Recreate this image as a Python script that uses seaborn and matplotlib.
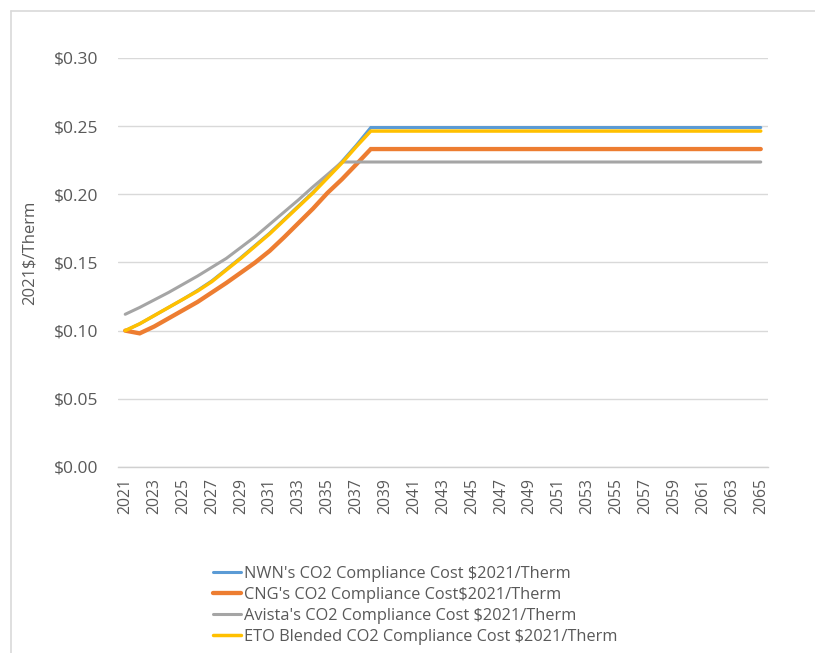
import matplotlib
matplotlib.use("Agg")
import matplotlib.pyplot as plt
from matplotlib.lines import Line2D
from matplotlib.ticker import FuncFormatter
import seaborn as sns
import pandas as pd

years = list(range(2021, 2066))

nwn_ramp = [0.100, 0.105, 0.111, 0.117, 0.123, 0.1295, 0.1365, 0.145, 0.1535,
            0.1625, 0.1715, 0.1815, 0.1915, 0.2015, 0.2125, 0.224, 0.236, 0.249]
cng_ramp = [0.100, 0.098, 0.103, 0.109, 0.115, 0.121, 0.128, 0.135, 0.1425,
            0.150, 0.1585, 0.1685, 0.179, 0.1895, 0.201, 0.211, 0.222, 0.2332]
avista_ramp = [0.112, 0.117, 0.1225, 0.128, 0.134, 0.140, 0.1465, 0.153, 0.161,
               0.169, 0.178, 0.187, 0.196, 0.2055, 0.2145, 0.2237]
eto_ramp = [0.100, 0.105, 0.111, 0.117, 0.123, 0.129, 0.136, 0.1445, 0.153,
            0.162, 0.171, 0.181, 0.191, 0.201, 0.212, 0.223, 0.235, 0.2464]

# after the ramp each price holds at its final level through 2065
nwn = nwn_ramp + [nwn_ramp[-1]] * (len(years) - len(nwn_ramp))
cng = cng_ramp + [cng_ramp[-1]] * (len(years) - len(cng_ramp))
avista = avista_ramp + [avista_ramp[-1]] * (len(years) - len(avista_ramp))
eto = eto_ramp + [eto_ramp[-1]] * (len(years) - len(eto_ramp))

series_names = [
    "NWN's CO2 Compliance Cost $2021/Therm",
    "CNG's CO2 Compliance Cost$2021/Therm",
    "Avista's CO2 Compliance Cost $2021/Therm",
    "ETO Blended CO2 Compliance Cost $2021/Therm",
]
series_values = [nwn, cng, avista, eto]
colors = ["#5B9BD5", "#ED7D31", "#A5A5A5", "#FFC000"]
widths = [2.2, 3.1, 2.2, 2.5]

sns.set_theme(style="white")
plt.rcParams["font.family"] = ["Open Sans", "DejaVu Sans"]
text_color = "#595959"

fig = plt.figure(figsize=(8.15, 6.53), dpi=100)
ax = fig.add_axes([0.1448, 0.2849, 0.7975, 0.6263])

for name, vals, col, lw in zip(series_names, series_values, colors, widths):
    df = pd.DataFrame({"Year": years, "Cost": vals})
    sns.lineplot(data=df, x="Year", y="Cost", ax=ax, color=col, linewidth=lw,
                 label=name, legend=False, solid_joinstyle="miter")

ax.set_xlim(2020.5, 2065.5)
ax.set_ylim(0, 0.30)
ax.set_yticks([0, 0.05, 0.10, 0.15, 0.20, 0.25, 0.30])
ax.yaxis.set_major_formatter(FuncFormatter(lambda v, p: f"${v:.2f}"))
ax.set_xticks(years[::2])
ax.set_xticklabels([str(y) for y in years[::2]], rotation=90)
ax.tick_params(axis="y", labelsize=12.5, colors=text_color, length=0, pad=14)
ax.tick_params(axis="x", labelsize=11.3, colors=text_color, length=0, pad=8)
ax.set_xlabel("")
ax.set_ylabel("2021$/Therm", fontsize=12, color=text_color)
ax.yaxis.set_label_coords(-0.123, 0.523)

ax.grid(axis="y", color="#D9D9D9", linewidth=1.0)
ax.grid(axis="x", visible=False)
for side in ["top", "right", "left"]:
    ax.spines[side].set_visible(False)
ax.spines["bottom"].set_color("#D0D0D0")
ax.spines["bottom"].set_linewidth(1.0)
ax.set_axisbelow(True)

handles = [Line2D([0], [0], color=c, linewidth=lw) for c, lw in zip(colors, widths)]
leg = fig.legend(handles, series_names, loc="upper left",
                 bbox_to_anchor=(0.261, 0.133), frameon=False,
                 fontsize=11.8, handlelength=1.75, handletextpad=0.15,
                 labelspacing=0.3, borderaxespad=0, borderpad=0)
for t in leg.get_texts():
    t.set_color(text_color)

# outer chart border
fig.add_artist(Line2D([11 / 815, 11 / 815], [0, 1 - 11 / 653], color="#D9D9D9",
                      linewidth=1.2, transform=fig.transFigure))
fig.add_artist(Line2D([11 / 815, 1], [1 - 11 / 653, 1 - 11 / 653], color="#D9D9D9",
                      linewidth=1.2, transform=fig.transFigure))

fig.savefig("out.png", dpi=100, facecolor="white")
